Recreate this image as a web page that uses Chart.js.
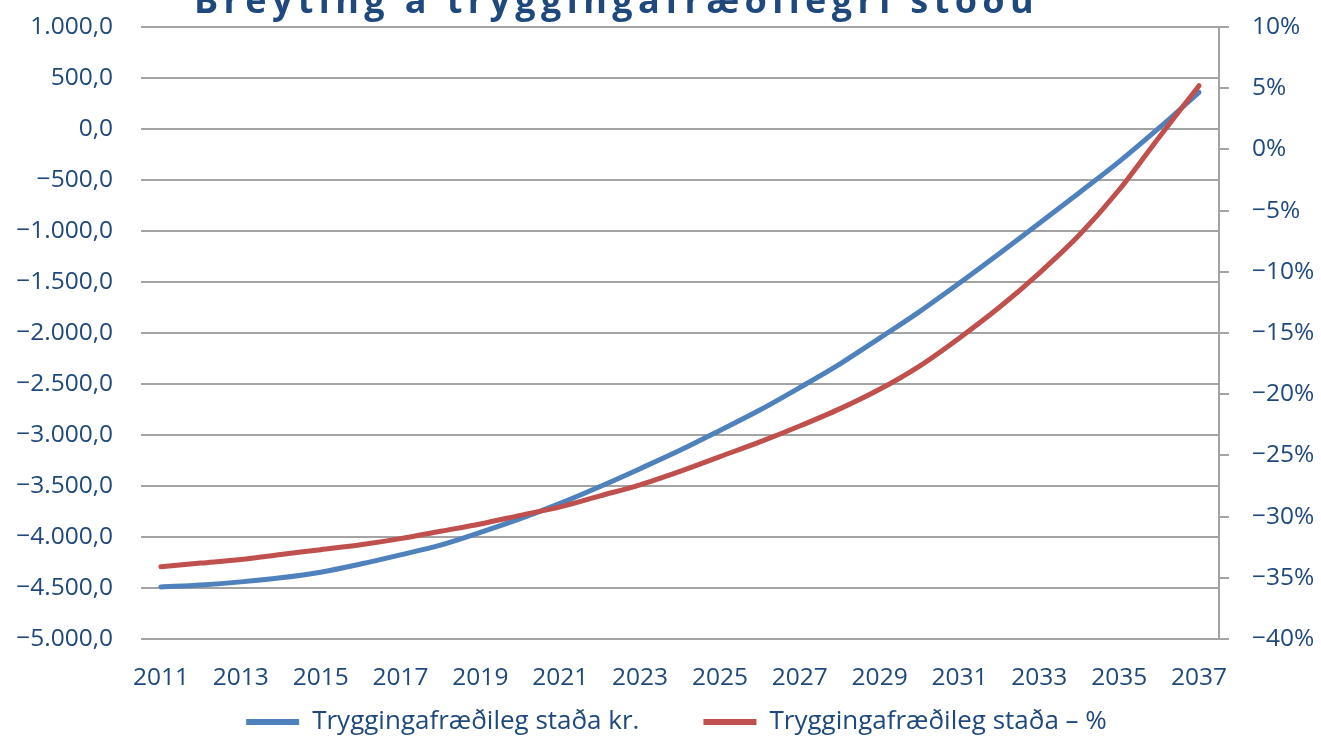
<!DOCTYPE html>
<html><head><meta charset="utf-8">
<script src="https://cdn.jsdelivr.net/npm/chart.js@4.4.1/dist/chart.umd.min.js"></script>
<style>
html,body{margin:0;padding:0;background:#fff;overflow:hidden;width:1321px;height:737px;}
#wrap{position:absolute;left:0;top:-40px;width:1321px;height:777px;}
</style></head><body>
<div id="wrap"><canvas id="c"></canvas></div>
<script>
const titleText = 'Breyting á tryggingafræðilegri stöðu';
const years = ['2011','2012','2013','2014','2015','2016','2017','2018','2019','2020','2021','2022','2023','2024','2025','2026','2027','2028','2029','2030','2031','2032','2033','2034','2035','2036','2037'];
const seriesKrLabel = 'Tryggingafræðileg staða kr.';
const seriesKr = [-4490,-4470,-4440,-4400,-4345,-4265,-4175,-4080,-3955,-3820,-3670,-3505,-3330,-3150,-2955,-2755,-2535,-2305,-2050,-1790,-1510,-1220,-925,-625,-320,10,360];
const seriesPctLabel = 'Tryggingafræðileg staða – %';
const seriesPct = [-34.1,-33.8,-33.5,-33.1,-32.7,-32.3,-31.8,-31.2,-30.6,-29.9,-29.2,-28.3,-27.4,-26.3,-25.1,-23.9,-22.6,-21.2,-19.6,-17.7,-15.4,-12.9,-10.1,-7.0,-3.3,1.0,5.2];
const leftTickValues = [1000,500,0,-500,-1000,-1500,-2000,-2500,-3000,-3500,-4000,-4500,-5000];
const leftTickLabels = ['1.000,0','500,0','0,0','−500,0','−1.000,0','−1.500,0','−2.000,0','−2.500,0','−3.000,0','−3.500,0','−4.000,0','−4.500,0','−5.000,0'];
const rightTickValues = [10,5,0,-5,-10,-15,-20,-25,-30,-35,-40];
const rightTickLabels = ['10%','5%','0%','−5%','−10%','−15%','−20%','−25%','−30%','−35%','−40%'];

const TXT = '#1F497D';
const GRID = '#A3A3A3';
const FONT = 'Open Sans';
const AXFS = 24.5;
const LGFS = 26;
const LGPAD = 64;

function wrapDraw(obj, chart, fn) {
  if (!obj || obj._wrapped) return;
  const orig = obj.draw.bind(obj);
  obj.draw = function (a) {
    const ctx = chart.ctx;
    ctx.save();
    fn(ctx);
    orig(a);
    ctx.restore();
  };
  obj._wrapped = true;
}

const tweakPlugin = {
  id: 'tweak',
  afterLayout(chart) {
    const lg = chart.legend;
    if (lg) {
      lg.top = 762 - LGPAD - LGFS / 2;
      lg.left += 16; lg.right += 16;
    }
    wrapDraw(chart.titleBlock, chart, (ctx) => { ctx.letterSpacing = '5.4px'; ctx.translate(-44, 1); });
    ['x', 'yL', 'yR'].forEach(id => wrapDraw(chart.scales[id], chart, (ctx) => { ctx.letterSpacing = '1px'; }));
  }
};

new Chart(document.getElementById('c'), {
  type: 'line',
  data: {
    labels: years,
    datasets: [
      {label: seriesKrLabel, data: seriesKr, yAxisID: 'yL', borderColor: '#4F81BD', backgroundColor: '#4F81BD',
       borderWidth: 5, pointRadius: 0, cubicInterpolationMode: 'monotone', borderCapStyle: 'round', order: 1},
      {label: seriesPctLabel, data: seriesPct, yAxisID: 'yR', borderColor: '#C0504D', backgroundColor: '#C0504D',
       borderWidth: 5, pointRadius: 0, cubicInterpolationMode: 'monotone', borderCapStyle: 'round', order: 0}
    ]
  },
  plugins: [tweakPlugin],
  options: {
    responsive: true, maintainAspectRatio: false, animation: false,
    layout: {padding: {left: 0, right: 0, top: 0, bottom: 0}},
    plugins: {
      tooltip: {enabled: false},
      title: {display: true, text: titleText, color: TXT,
        font: {family: FONT, size: 36, weight: 'bold'}, padding: {top: 20.5, bottom: 3.3}},
      legend: {position: 'bottom', maxHeight: 30,
        labels: {color: TXT, font: {family: FONT, size: LGFS}, boxWidth: 53, boxHeight: 6, padding: LGPAD,
          sort: (a, b) => a.datasetIndex - b.datasetIndex,
          generateLabels: (chart) => {
            const items = Chart.defaults.plugins.legend.labels.generateLabels(chart);
            items.forEach(it => { it.lineWidth = 0; it.fillStyle = it.strokeStyle; });
            return items;
          }}}
    },
    scales: {
      x: {
        offset: true,
        grid: {display: false, offset: true}, border: {display: false},
        ticks: {color: TXT, font: {family: FONT, size: AXFS}, autoSkip: false, maxRotation: 0, padding: 16,
          callback: (v, i) => (i % 2 === 0 ? years[i] : '')},
        afterFit: (s) => { s.height = 68; }
      },
      yL: {
        position: 'left', min: -5000, max: 1000,
        afterBuildTicks: (s) => { s.ticks = leftTickValues.slice().reverse().map(v => ({value: v})); },
        grid: {color: GRID, lineWidth: 2, drawTicks: false}, border: {display: false},
        ticks: {color: TXT, font: {family: FONT, size: AXFS}, padding: 28,
          callback: (v) => leftTickLabels[leftTickValues.indexOf(v)]},
        afterFit: (s) => { s.width = 141; }
      },
      yR: {
        position: 'right', min: -40, max: 10,
        afterBuildTicks: (s) => { s.ticks = rightTickValues.slice().reverse().map(v => ({value: v})); },
        grid: {drawOnChartArea: false, color: GRID, lineWidth: 2, drawTicks: true, tickLength: 10},
        border: {display: true, color: GRID, width: 2},
        ticks: {color: TXT, font: {family: FONT, size: AXFS}, padding: 23,
          callback: (v) => rightTickLabels[rightTickValues.indexOf(v)]},
        afterFit: (s) => { s.width = 102; }
      }
    }
  }
});
</script>
</body></html>
